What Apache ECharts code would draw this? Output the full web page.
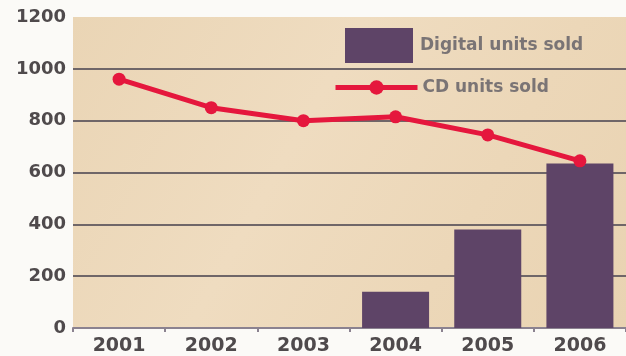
<!DOCTYPE html>
<html>
<head>
<meta charset="utf-8">
<style>
  html, body { margin: 0; padding: 0; background: #fbfaf7; }
  #chart { width: 626px; height: 356px; }
</style>
<script src="https://cdn.jsdelivr.net/npm/echarts@6/dist/echarts.min.js"></script>
</head>
<body>
<div id="chart"></div>
<script>
// Music sales per year, in units
const years = ['2001', '2002', '2003', '2004', '2005', '2006'];
const digitalUnits = [null, null, null, 140, 380, 635];
const cdUnits = [960, 850, 800, 815, 745, 645];
const yTicks = { min: 0, max: 1200, step: 200 };

const labelFont = { fontFamily: 'DejaVu Sans', fontWeight: 'bold' };
const gridColor = '#6f6668';
const cdColor = '#e5173d';

const chart = echarts.init(document.getElementById('chart'), null, { renderer: 'canvas' });
chart.setOption({
  backgroundColor: '#fbfaf7',
  animation: false,
  grid: {
    left: 73, top: 17, width: 558, bottom: 26,
    show: true,
    borderWidth: 0,
    backgroundColor: {
      type: 'linear', x: 0, y: 0, x2: 1, y2: 1,
      colorStops: [
        { offset: 0, color: '#ead5b5' },
        { offset: 0.4, color: '#efdcc0' },
        { offset: 0.7, color: '#ecd7b8' },
        { offset: 1, color: '#e9d3b2' }
      ]
    }
  },
  legend: [
    {
      data: [{ name: 'Digital units sold', icon: 'rect' }],
      left: 340, top: 23,
      itemWidth: 68, itemHeight: 35, itemGap: 12,
      textStyle: Object.assign({ color: '#7a7475', fontSize: 17, padding: [0, 0, 0, 2] }, labelFont),
      selectedMode: false
    },
    {
      data: ['CD units sold'],
      left: 328, top: 74,
      itemWidth: 82, itemHeight: 18, itemGap: 9,
      lineStyle: { width: 5, color: cdColor },
      textStyle: Object.assign({ color: '#7a7475', fontSize: 17 }, labelFont),
      selectedMode: false
    }
  ],
  xAxis: {
    type: 'category',
    data: years,
    boundaryGap: true,
    axisLine: { lineStyle: { color: '#8b8290', width: 2 } },
    axisTick: { show: true, length: 4, lineStyle: { color: '#8b8290', width: 2 } },
    axisLabel: Object.assign({ color: '#4f4a4c', fontSize: 19, margin: 9 }, labelFont)
  },
  yAxis: {
    type: 'value',
    min: yTicks.min, max: yTicks.max, interval: yTicks.step,
    axisLine: { show: false },
    axisTick: { show: false },
    axisLabel: Object.assign({
      color: '#4f4a4c', fontSize: 18, margin: 7,
      formatter: (v) => String(v)
    }, labelFont),
    splitLine: {
      lineStyle: {
        color: [gridColor, gridColor, gridColor, gridColor, gridColor, gridColor, 'rgba(0,0,0,0)'],
        width: 2
      }
    }
  },
  series: [
    {
      name: 'Digital units sold',
      type: 'bar',
      data: digitalUnits,
      barWidth: 67,
      itemStyle: { color: '#5e4467' },
      z: 2
    },
    {
      name: 'CD units sold',
      type: 'line',
      data: cdUnits,
      symbol: 'circle',
      symbolSize: 13,
      lineStyle: { color: cdColor, width: 5 },
      itemStyle: { color: cdColor },
      z: 3
    }
  ]
});
</script>
</body>
</html>
